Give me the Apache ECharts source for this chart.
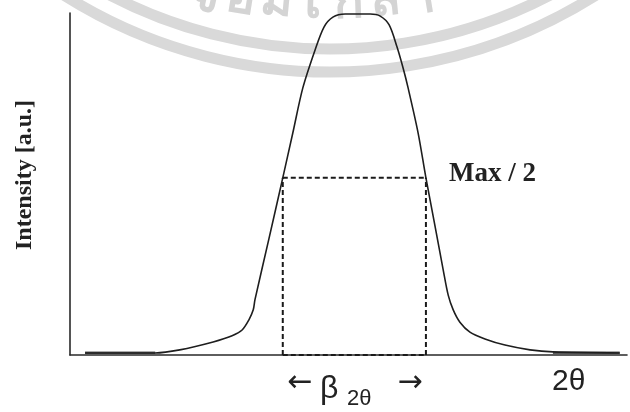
<!DOCTYPE html>
<html>
<head>
<meta charset="utf-8">
<script src="https://cdn.jsdelivr.net/npm/echarts@6/dist/echarts.min.js"></script>
<style>
  html, body { margin: 0; padding: 0; background: #ffffff; }
  #chart { width: 630px; height: 412px; }
</style>
</head>
<body>
<div id="chart"></div>
<script>
// Diffraction peak profile (2θ in arbitrary units, intensity in a.u.)
const twoTheta = [2.7, 15.3, 19.7, 25.7, 29.1, 30.9, 32.1, 32.9, 33.2, 35.7, 38.2, 40.0, 41.8, 44.0, 45.6, 47.2, 49.4, 53.9, 55.7, 57.3, 58.7, 59.8, 60.7, 62.5, 63.9, 65.5, 67.0, 67.9, 68.8, 70.0, 71.8, 74.5, 78.1, 82.6, 86.7, 98.7];
const intensity = [0.6, 0.6, 1.5, 3.8, 5.6, 7.3, 10.2, 13.2, 16.1, 33.9, 51.8, 64.9, 78.1, 89.2, 95.9, 98.8, 99.7, 99.7, 99.1, 96.5, 90.1, 83.9, 78.1, 64.9, 51.8, 38.0, 24.9, 17.5, 13.2, 9.6, 6.7, 4.7, 2.9, 1.5, 0.9, 0.6];

// Flat background stretches drawn heavier at both ends of the scan
const leftTail = [[2.7, 0.6], [15.3, 0.6]];
const rightTail = [[86.7, 0.6], [98.7, 0.6]];

// Half-maximum level and the width of the peak at that level
const halfMax = 51.8;
const fwhmLeft = 38.2;
const fwhmRight = 63.9;

// Letters of the background seal, spread along its inner ring
const sealLetters = ['จ', 'อ', 'ม', 'เ', 'ก', 'ล้', 'า'];

const chart = echarts.init(document.getElementById('chart'), null, { renderer: 'canvas' });

const dashStyle = { color: '#1a1a1a', width: 2, type: [5, 3] };
function dashed(points) {
  return {
    type: 'line',
    data: points,
    showSymbol: false,
    silent: true,
    lineStyle: dashStyle,
    z: 3
  };
}

const sealCx = 330, sealCy = -427;
const sealText = sealLetters.map((ch, i) => {
  const x = 205 + i * 36;
  const ang = Math.asin((x - sealCx) / 450);
  return {
    type: 'text', z: -10, silent: true,
    x: x, y: 4 - Math.abs(x - sealCx) * 0.06,
    rotation: ang * 0.8,
    style: { text: ch, font: 'bold 50px "Noto Sans", sans-serif', fill: '#d4d4d4', textAlign: 'center', textVerticalAlign: 'middle' }
  };
});

const option = {
  animation: false,
  backgroundColor: '#ffffff',
  grid: { left: 70, right: 3, top: 13, bottom: 57 },
  xAxis: {
    type: 'value',
    min: 0,
    max: 100,
    axisLine: { show: true, lineStyle: { color: '#2a2a2a', width: 1.6 } },
    axisTick: { show: false },
    axisLabel: { show: false },
    splitLine: { show: false }
  },
  yAxis: {
    type: 'value',
    min: 0,
    max: 100,
    axisLine: { show: true, lineStyle: { color: '#2a2a2a', width: 1.6 } },
    axisTick: { show: false },
    axisLabel: { show: false },
    splitLine: { show: false }
  },
  series: [
    {
      type: 'line',
      data: twoTheta.map((x, i) => [x, intensity[i]]),
      smooth: 0.3,
      showSymbol: false,
      lineStyle: { color: '#1e1e1e', width: 1.6 },
      z: 4
    },
    {
      type: 'line',
      data: leftTail,
      showSymbol: false,
      lineStyle: { color: '#5a5a5a', width: 3 },
      z: 3
    },
    {
      type: 'line',
      data: rightTail,
      showSymbol: false,
      lineStyle: { color: '#5a5a5a', width: 3 },
      z: 3
    },
    dashed([[fwhmLeft, halfMax], [fwhmRight, halfMax]]),
    dashed([[fwhmLeft, 0], [fwhmLeft, halfMax]]),
    dashed([[fwhmRight, 0], [fwhmRight, halfMax]]),
    dashed([[fwhmLeft, 0], [fwhmRight, 0]])
  ],
  graphic: [
    // faint seal rings in the background
    {
      type: 'arc', z: -10, silent: true,
      shape: { cx: sealCx, cy: sealCy, r: 476, startAngle: Math.PI * 0.2, endAngle: Math.PI * 0.8 },
      style: { fill: null, stroke: '#d9d9d9', lineWidth: 11 }
    },
    {
      type: 'arc', z: -10, silent: true,
      shape: { cx: sealCx, cy: sealCy, r: 499, startAngle: Math.PI * 0.2, endAngle: Math.PI * 0.8 },
      style: { fill: null, stroke: '#d9d9d9', lineWidth: 11 }
    },
    ...sealText,
    {
      type: 'text', x: 25, y: 175, rotation: Math.PI / 2,
      style: { text: 'Intensity [a.u.]', font: 'bold 24px "Liberation Serif"', fill: '#222', textAlign: 'center', textVerticalAlign: 'middle' }
    },
    {
      type: 'text', x: 449, y: 174,
      style: { text: 'Max / 2', font: 'bold 27px "Liberation Serif"', fill: '#222', textAlign: 'left', textVerticalAlign: 'middle' }
    },
    {
      type: 'text', x: 552, y: 382,
      style: { text: '2θ', font: '30px "Liberation Sans"', fill: '#222', textAlign: 'left', textVerticalAlign: 'middle' }
    },
    {
      type: 'text', x: 300, y: 383,
      style: { text: '←', font: '30px "DejaVu Sans"', fill: '#222', textAlign: 'center', textVerticalAlign: 'middle' }
    },
    {
      type: 'text', x: 410, y: 383,
      style: { text: '→', font: '30px "DejaVu Sans"', fill: '#222', textAlign: 'center', textVerticalAlign: 'middle' }
    },
    {
      type: 'text', x: 320, y: 389,
      style: { text: 'β', font: '32px "Liberation Sans"', fill: '#222', textAlign: 'left', textVerticalAlign: 'middle' }
    },
    {
      type: 'text', x: 347, y: 399,
      style: { text: '2θ', font: '22px "Liberation Sans"', fill: '#222', textAlign: 'left', textVerticalAlign: 'middle' }
    }
  ]
};

chart.setOption(option);
</script>
</body>
</html>
